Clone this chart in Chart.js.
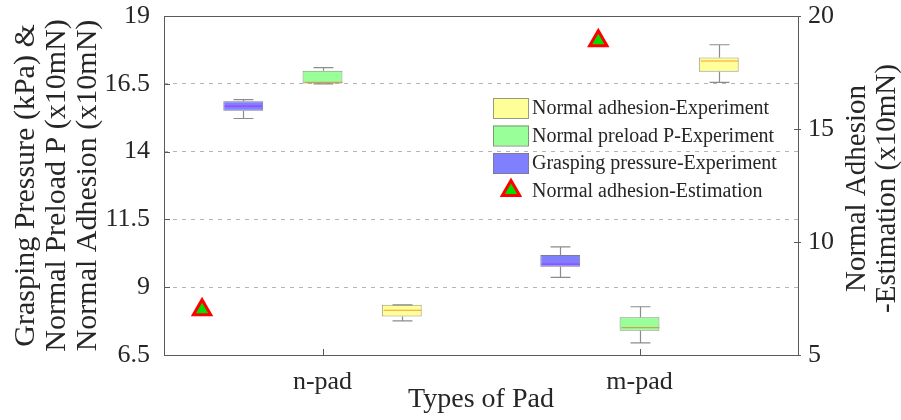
<!DOCTYPE html>
<html lang="en">
<head>
<meta charset="UTF-8">
<title>Types of Pad</title>
<script src="https://cdn.jsdelivr.net/npm/chart.js@4.4.0/dist/chart.umd.min.js"></script>
<style>
  html, body { margin: 0; padding: 0; background: #fff; }
  #wrap { width: 901px; height: 420px; }
</style>
</head>
<body>
<div id="wrap"><canvas id="chart"></canvas></div>
<script>
const pads = ['n-pad', 'm-pad'];
// [min, q1, median, q3, max] for each pad
const adhesionExp = [[7.76, 7.92, 8.15, 8.35, 8.35], [16.55, 16.94, 17.34, 17.47, 17.94]];
const preloadExp = [[16.50, 16.51, 16.55, 16.98, 17.10], [6.95, 7.39, 7.51, 7.89, 8.28]];
const pressureExp = [[15.22, 15.51, 15.68, 15.86, 15.92], [9.36, 9.75, 9.85, 10.19, 10.49]];
// estimation, right axis (x in category units, 0 = n-pad, 1 = m-pad)
const adhesionEstX = [-0.38, 0.87];
const adhesionEst = [7.0, 18.9];
const leftTicks = [6.5, 9, 11.5, 14, 16.5, 19];
const rightTicks = [5, 10, 15, 20];

const serif = 'Liberation Serif';
const textColor = '#262626';
const frameColor = '#5a5a5a';

// box groups sit left / centre / right of each pad
function boxSet(label, stats, shift, fill, edge, mid) {
  return {
    label: label,
    data: stats.map((s, i) => ({ x: i + shift, y: [s[1], s[3]] })),
    stats: stats,
    backgroundColor: fill,
    borderColor: edge,
    borderWidth: 1,
    borderSkipped: false,
    medianColor: mid,
    yAxisID: 'y'
  };
}

const datasets = [
  boxSet('Grasping pressure-Experiment', pressureExp, -0.25, '#8080ff', '#7a7a9a', '#a040ff'),
  boxSet('Normal preload P-Experiment', preloadExp, 0, '#99ff99', '#7a9a7a', '#d0a050'),
  boxSet('Normal adhesion-Experiment', adhesionExp, 0.25, '#ffff99', '#9a9a7a', '#ff9933'),
  {
    type: 'scatter',
    label: 'Normal adhesion-Estimation',
    data: adhesionEstX.map((x, i) => ({ x: x, y: adhesionEst[i] })),
    yAxisID: 'yr',
    pointStyle: 'triangle',
    pointRadius: 10,
    pointBorderWidth: 3,
    pointBackgroundColor: '#00e000',
    pointBorderColor: '#ff0000'
  }
];

const legendItems = [
  { text: 'Normal adhesion-Experiment', fill: '#ffff99', edge: '#9a9a7a' },
  { text: 'Normal preload P-Experiment', fill: '#99ff99', edge: '#7a9a7a' },
  { text: 'Grasping pressure-Experiment', fill: '#8080ff', edge: '#7a7a9a' },
  { text: 'Normal adhesion-Estimation', tri: true }
];

const boxPlugin = {
  id: 'boxExtras',
  afterDatasetsDraw(chart) {
    const ctx = chart.ctx;
    const y = chart.scales.y;
    const py = v => y.getPixelForValue(v);
    ctx.save();
    chart.data.datasets.forEach((ds, di) => {
      if (!ds.stats) return;
      const meta = chart.getDatasetMeta(di);
      meta.data.forEach((bar, i) => {
        const s = ds.stats[i];
        const x = Math.round(bar.x) + 0.5;
        const w = bar.width;
        ctx.strokeStyle = '#8c8c8c';
        ctx.lineWidth = 1.2;
        ctx.beginPath();
        ctx.moveTo(x, py(s[3])); ctx.lineTo(x, py(s[4]));
        ctx.moveTo(x - w / 4, py(s[4])); ctx.lineTo(x + w / 4, py(s[4]));
        ctx.moveTo(x, py(s[1])); ctx.lineTo(x, py(s[0]));
        ctx.moveTo(x - w / 4, py(s[0])); ctx.lineTo(x + w / 4, py(s[0]));
        ctx.stroke();
        ctx.strokeStyle = ds.medianColor;
        ctx.beginPath();
        ctx.moveTo(x - w / 2 + 1, py(s[2])); ctx.lineTo(x + w / 2 - 1, py(s[2]));
        ctx.stroke();
      });
    });
    ctx.restore();
  },
  afterDraw(chart) {
    const ctx = chart.ctx;
    const a = chart.chartArea;
    const y = chart.scales.y, yr = chart.scales.yr, x = chart.scales.x;
    ctx.save();
    // frame
    ctx.strokeStyle = frameColor;
    ctx.lineWidth = 1;
    ctx.strokeRect(Math.round(a.left) + 0.5, Math.round(a.top) + 0.5,
      Math.round(a.right - a.left), Math.round(a.bottom - a.top));
    // inward tick marks
    ctx.beginPath();
    leftTicks.forEach(v => {
      const p = Math.round(y.getPixelForValue(v)) + 0.5;
      ctx.moveTo(a.left, p); ctx.lineTo(a.left + 6, p);
    });
    rightTicks.forEach(v => {
      const p = Math.round(yr.getPixelForValue(v)) + 0.5;
      ctx.moveTo(a.right - 4, p); ctx.lineTo(a.right + 3, p);
    });
    pads.forEach((l, i) => {
      const p = Math.round(x.getPixelForValue(i)) + 0.5;
      ctx.moveTo(p, a.bottom); ctx.lineTo(p, a.bottom - 6);
    });
    ctx.stroke();

    // legend
    ctx.font = '20px "' + serif + '"';
    ctx.textBaseline = 'middle';
    legendItems.forEach((it, i) => {
      const cy = 108 + i * 27.5;
      if (it.tri) {
        ctx.fillStyle = '#00e000';
        ctx.strokeStyle = '#ff0000';
        ctx.lineWidth = 3;
        Chart.helpers.drawPoint(ctx, { pointStyle: 'triangle', radius: 10, borderWidth: 3 }, 511, cy);
      } else {
        ctx.fillStyle = it.fill;
        ctx.strokeStyle = it.edge;
        ctx.lineWidth = 1;
        ctx.fillRect(493, cy - 10, 36, 20);
        ctx.strokeRect(493.5, cy - 9.5, 35, 20);
      }
      ctx.fillStyle = textColor;
      ctx.fillText(it.text, 532, cy + 1);
    });

    // right axis title, read bottom-to-top like the left one
    ctx.font = '29px "' + serif + '"';
    ctx.textAlign = 'center';
    const midY = (a.top + a.bottom) / 2 + 3;
    [['Normal Adhesion', 857], ['-Estimation (x10mN)', 887]].forEach(([t, cx]) => {
      ctx.save();
      ctx.translate(cx, midY);
      ctx.rotate(-Math.PI / 2);
      ctx.fillText(t, 0, 0);
      ctx.restore();
    });
    ctx.restore();
  }
};

function fixY(width) {
  return s => { s.width = width; s.paddingTop = 0; s.paddingBottom = 0; };
}

const ctx = document.getElementById('chart').getContext('2d');
new Chart(ctx, {
  type: 'bar',
  data: { datasets: datasets },
  options: {
    responsive: true,
    maintainAspectRatio: false,
    animation: false,
    layout: { padding: { top: 16, left: 0, right: 0, bottom: 0 } },
    datasets: { bar: { grouped: false, barPercentage: 0.503, categoryPercentage: 1 } },
    plugins: { legend: { display: false }, tooltip: { enabled: false } },
    scales: {
      x: {
        type: 'linear',
        offset: false,
        min: -0.5, max: 1.5,
        afterBuildTicks: s => { s.ticks = pads.map((p, i) => ({ value: i })); },
        grid: { display: false },
        border: { display: false },
        ticks: {
          color: textColor, font: { family: serif, size: 26 }, padding: 4,
          callback: v => pads[v]
        },
        title: {
          display: true, text: 'Types of Pad', color: textColor,
          font: { family: serif, size: 28, lineHeight: 1.0 }, padding: { top: 0, bottom: 6 }
        },
        afterFit: s => { s.height = 65; s.paddingLeft = 0; s.paddingRight = 0; }
      },
      y: {
        position: 'left',
        min: 6.5, max: 19,
        afterBuildTicks: s => { s.ticks = leftTicks.map(v => ({ value: v })); },
        grid: { color: '#b4b4b4', drawTicks: false },
        border: { display: false, dash: [4, 5] },
        ticks: { color: textColor, font: { family: serif, size: 26 }, padding: 14 },
        title: {
          display: true,
          text: ['Grasping Pressure (kPa) &', 'Normal Preload P (x10mN)', 'Normal Adhesion (x10mN)'],
          color: textColor,
          font: { family: serif, size: 30, lineHeight: 1.03 },
          padding: { top: 11, bottom: 0 }
        },
        afterFit: fixY(164)
      },
      yr: {
        position: 'right',
        min: 5, max: 20,
        afterBuildTicks: s => { s.ticks = rightTicks.map(v => ({ value: v })); },
        grid: { display: false, drawTicks: false },
        border: { display: false },
        ticks: { color: textColor, font: { family: serif, size: 26 }, padding: 10 },
        afterFit: fixY(103)
      }
    }
  },
  plugins: [boxPlugin]
});
</script>
</body>
</html>
